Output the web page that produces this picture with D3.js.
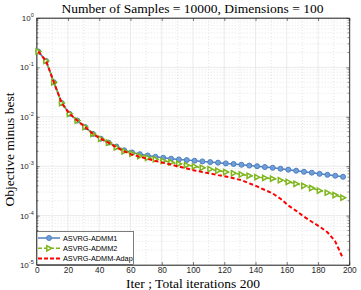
<!DOCTYPE html>
<html>
<head>
<meta charset="utf-8">
<script src="https://cdn.jsdelivr.net/npm/d3@7"></script>
<style>
  body { margin: 0; background: #fff; }
  svg { display: block; }
  .tick text { font-family: "Liberation Sans", Arial, sans-serif; fill: #262626; }
</style>
</head>
<body>
<div id="chart"></div>
<script>
// iterations where the values were recorded
const iters = d3.range(1, 200, 5);

const admm1 = [0.21, 0.135, 0.05, 0.019, 0.0115, 0.0084, 0.0062, 0.0045, 0.0036, 0.0030,
  0.0025, 0.0021, 0.0019, 0.00175, 0.00165, 0.00155, 0.00148, 0.00142, 0.00137, 0.00133,
  0.00129, 0.00125, 0.00121, 0.00118, 0.00114, 0.00111, 0.00107, 0.00103, 0.00100, 0.00096,
  0.00093, 0.00089, 0.00085, 0.00081, 0.00077, 0.00074, 0.00070, 0.00067, 0.00064, 0.00061];

const admm2 = [0.21, 0.135, 0.05, 0.019, 0.0115, 0.0084, 0.0062, 0.0045, 0.0036, 0.0030,
  0.0024, 0.0020, 0.0018, 0.0016, 0.00148, 0.00138, 0.00128, 0.00120, 0.00112, 0.00105,
  0.00099, 0.00093, 0.00087, 0.00081, 0.00076, 0.00072, 0.00068, 0.00064, 0.00060, 0.00058,
  0.00056, 0.00052, 0.00048, 0.00044, 0.00040, 0.00036, 0.00032, 0.00029, 0.00026, 0.00023];

const adap = [0.21, 0.135, 0.05, 0.019, 0.0115, 0.0084, 0.0062, 0.0045, 0.0036, 0.0030,
  0.0024, 0.0020, 0.00172, 0.00155, 0.00140, 0.00128, 0.00117, 0.00108, 0.00098, 0.00090,
  0.00082, 0.00076, 0.00071, 0.00066, 0.00062, 0.00057, 0.00052, 0.00045, 0.00039, 0.00033,
  0.00028, 0.00022, 0.00016, 0.000125, 0.000095, 0.000075, 0.000060, 0.000046, 0.000030, 0.0000135];

const xTicks = d3.range(0, 201, 20);
const yTicks = [1, 1e-1, 1e-2, 1e-3, 1e-4, 1e-5];
const legendNames = ['ASVRG-ADMM1', 'ASVRG-ADMM2', 'ASVRG-ADMM-Adap'];

const width = 361, height = 290;
const margin = { top: 18, right: 11.7, bottom: 25, left: 36.7 };
const innerW = width - margin.left - margin.right;
const innerH = height - margin.top - margin.bottom;

const blue = '#4f7fc0', green = '#7db51b', red = '#ff0000';

const svg = d3.select('#chart').append('svg')
  .attr('width', width)
  .attr('height', height);

const g = svg.append('g').attr('transform', `translate(${margin.left},${margin.top})`);

const x = d3.scaleLinear().domain([0, 200]).range([0, innerW]);
const y = d3.scaleLog().domain([1e-5, 1]).range([innerH, 0]);

// minor log values
const yMinor = [];
for (let e = -5; e < 0; e++) {
  for (let k = 2; k <= 9; k++) yMinor.push(k * Math.pow(10, e));
}
const xMinor = d3.range(10, 200, 20);

// grid
g.append('g').selectAll('line').data(yMinor).join('line')
  .attr('x1', 0).attr('x2', innerW)
  .attr('y1', d => y(d)).attr('y2', d => y(d))
  .attr('stroke', '#d4d4d4').attr('stroke-width', 0.6).attr('stroke-dasharray', '1,2');
g.append('g').selectAll('line').data(xMinor).join('line')
  .attr('y1', 0).attr('y2', innerH)
  .attr('x1', d => x(d)).attr('x2', d => x(d))
  .attr('stroke', '#d4d4d4').attr('stroke-width', 0.6).attr('stroke-dasharray', '1,2');
g.append('g').selectAll('line').data(yTicks).join('line')
  .attr('x1', 0).attr('x2', innerW)
  .attr('y1', d => y(d)).attr('y2', d => y(d))
  .attr('stroke', '#e3e3e3').attr('stroke-width', 0.7);
g.append('g').selectAll('line').data(xTicks).join('line')
  .attr('y1', 0).attr('y2', innerH)
  .attr('x1', d => x(d)).attr('x2', d => x(d))
  .attr('stroke', '#e3e3e3').attr('stroke-width', 0.7);

// axes, ticks pointing inward like matlab
const xAxis = g.append('g').attr('transform', `translate(0,${innerH})`)
  .call(d3.axisBottom(x).tickValues(xTicks).tickSizeInner(-3).tickSizeOuter(0).tickPadding(2));
xAxis.selectAll('text').attr('font-size', '8.3px');

g.append('g')
  .call(d3.axisTop(x).tickValues(xTicks).tickSizeInner(-3).tickSizeOuter(0).tickFormat(''));

const yAxis = g.append('g')
  .call(d3.axisLeft(y).tickValues(yTicks).tickSizeInner(-3).tickSizeOuter(0).tickPadding(4).tickFormat(''));
yAxis.selectAll('.tick text')
  .attr('font-size', '8px')
  .each(function(d) {
    const t = d3.select(this);
    t.text('10');
    t.append('tspan').attr('dy', -4).attr('font-size', '5.5px').text(Math.round(Math.log10(d)));
  });
// the superscript makes labels a bit wider, shift them
yAxis.selectAll('.tick text').attr('x', -3);

g.append('g').attr('transform', `translate(${innerW},0)`)
  .call(d3.axisRight(y).tickValues(yTicks).tickSizeInner(-3).tickSizeOuter(0).tickFormat(''));

// minor ticks
[0, innerW].forEach(edge => {
  g.append('g').selectAll('line').data(yMinor).join('line')
    .attr('x1', edge).attr('x2', edge === 0 ? 1.8 : innerW - 1.8)
    .attr('y1', d => y(d)).attr('y2', d => y(d))
    .attr('stroke', '#262626').attr('stroke-width', 0.5);
});

g.selectAll('.domain').attr('stroke', '#262626').attr('stroke-width', 0.6);
g.selectAll('.tick line').attr('stroke', '#262626').attr('stroke-width', 0.6);

// box edges
g.append('rect').attr('width', innerW).attr('height', innerH)
  .attr('fill', 'none').attr('stroke', '#262626').attr('stroke-width', 0.6);

// series
const line = d3.line().x((d, i) => x(iters[i])).y(d => y(d));

g.append('path').datum(admm1)
  .attr('d', line).attr('fill', 'none').attr('stroke', blue).attr('stroke-width', 1.5);
g.append('g').selectAll('circle').data(admm1).join('circle')
  .attr('cx', (d, i) => x(iters[i])).attr('cy', d => y(d)).attr('r', 2.5)
  .attr('fill', '#6f9fd8').attr('stroke', blue).attr('stroke-width', 1);

g.append('path').datum(admm2)
  .attr('d', line).attr('fill', 'none').attr('stroke', green).attr('stroke-width', 1.5)
  .attr('stroke-dasharray', '4,2');
const tri = 'M-2.2,-2.6 L2.6,0 L-2.2,2.6 Z';
g.append('g').selectAll('path').data(admm2).join('path')
  .attr('transform', (d, i) => `translate(${x(iters[i])},${y(d)})`)
  .attr('d', tri).attr('fill', '#fff').attr('stroke', green).attr('stroke-width', 1.5);

g.append('path').datum(adap)
  .attr('d', line).attr('fill', 'none').attr('stroke', red).attr('stroke-width', 2)
  .attr('stroke-dasharray', '4,2.5');

// legend
const lg = g.append('g').attr('transform', `translate(0.3,${innerH - 33.5})`);
lg.append('rect').attr('width', 96.5).attr('height', 33)
  .attr('fill', '#fff').attr('stroke', '#262626').attr('stroke-width', 0.6);
const legendColors = [blue, green, red];
legendNames.forEach((name, i) => {
  const row = lg.append('g').attr('transform', `translate(0,${6.5 + i * 10.3})`);
  const l = row.append('line').attr('x1', 1).attr('x2', 23).attr('y1', 0).attr('y2', 0)
    .attr('stroke', legendColors[i]).attr('stroke-width', i === 2 ? 2 : 1.5);
  if (i > 0) l.attr('stroke-dasharray', '4,2');
  if (i === 0) {
    row.append('circle').attr('cx', 12).attr('cy', 0).attr('r', 2.5)
      .attr('fill', '#6f9fd8').attr('stroke', blue);
  }
  if (i === 1) {
    row.append('path').attr('transform', 'translate(12,0)').attr('d', tri)
      .attr('fill', '#fff').attr('stroke', green).attr('stroke-width', 1.5);
  }
  row.append('text').attr('x', 26).attr('y', 2.6)
    .attr('font-family', '"Liberation Sans", Arial, sans-serif')
    .attr('font-size', '7.3px').attr('fill', '#000').text(name);
});

// titles
const serif = '"Liberation Serif", "Times New Roman", serif';
svg.append('text').attr('x', 192.5).attr('y', 13)
  .attr('text-anchor', 'middle').attr('font-family', serif).attr('font-size', '13.5px')
  .text('Number of Samples = 10000, Dimensions = 100');
svg.append('text').attr('x', 193).attr('y', 288)
  .attr('text-anchor', 'middle').attr('font-family', serif).attr('font-size', '13.5px')
  .text('Iter ; Total iterations 200');
svg.append('text')
  .attr('transform', `translate(14,${margin.top + innerH / 2 + 8}) rotate(-90)`)
  .attr('text-anchor', 'middle').attr('font-family', serif).attr('font-size', '13.5px')
  .text('Objective minus best');
</script>
</body>
</html>
